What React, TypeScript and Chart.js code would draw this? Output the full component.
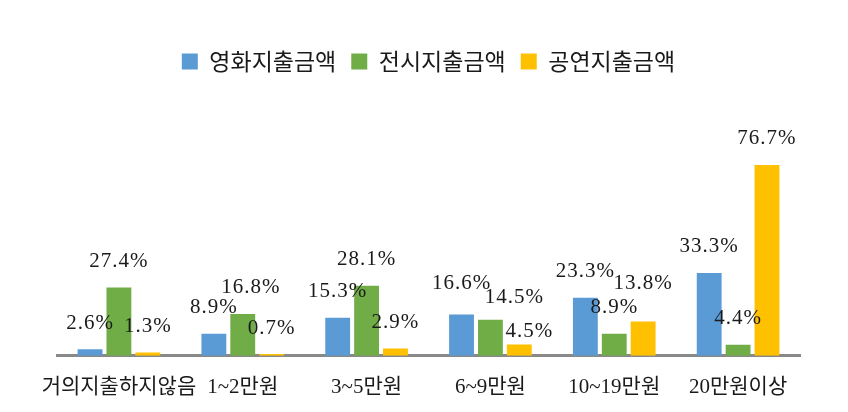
import React, { useEffect, useRef } from "react";
import { Chart, registerables } from "chart.js";

Chart.register(...registerables);

const categories = ["거의지출하지않음", "1~2만원", "3~5만원", "6~9만원", "10~19만원", "20만원이상"];
const seriesNames = ["영화지출금액", "전시지출금액", "공연지출금액"];
const movieValues = [2.6, 8.9, 15.3, 16.6, 23.3, 33.3];
const exhibitValues = [27.4, 16.8, 28.1, 14.5, 8.9, 4.4];
const performValues = [1.3, 0.7, 2.9, 4.5, 13.8, 76.7];

const colors = ["#5B9BD5", "#70AD47", "#FFC000"];
const labelNudges: Record<string, [number, number]> = {
  "1-1": [8, 0],
  "0-3": [0, -5],
  "1-3": [24, 4],
  "2-3": [10, 13],
  "2-4": [0, -12],
};

const FONT = '"Liberation Serif", "Noto Sans CJK KR", serif';

const valueLabelPlugin = {
  id: "valueLabels",
  afterDatasetsDraw(chart: any) {
    const ctx = chart.ctx;
    ctx.save();
    ctx.font = `21px ${FONT}`;
    try { ctx.letterSpacing = "1px"; } catch (e) {}
    ctx.fillStyle = "#1a1a1a";
    ctx.textAlign = "center";
    ctx.textBaseline = "middle";
    chart.data.datasets.forEach((ds: any, di: number) => {
      const meta = chart.getDatasetMeta(di);
      meta.data.forEach((el: any, i: number) => {
        const nudge = labelNudges[`${di}-${i}`] || [0, 0];
        ctx.fillText(ds.data[i].toFixed(1) + "%", el.x + nudge[0], el.y - 26 + nudge[1]);
      });
    });
    ctx.restore();
  },
};

export default function App() {
  const ref = useRef<HTMLCanvasElement>(null);
  useEffect(() => {
    if (!ref.current) return;
    const chart = new Chart(ref.current, {
      type: "bar",
      data: {
        labels: categories,
        datasets: [movieValues, exhibitValues, performValues].map((d, i) => ({
          label: seriesNames[i],
          data: d,
          backgroundColor: colors[i],
          categoryPercentage: 0.7,
          barPercentage: 0.86,
        })),
      },
      options: {
        animation: false,
        responsive: false,
        maintainAspectRatio: false,
        layout: { padding: { left: 57, right: 48, top: 35, bottom: -7 } },
        plugins: {
          legend: {
            position: "top",
            labels: {
              boxWidth: 16,
              boxHeight: 16,
              padding: 15,
              color: "#1a1a1a",
              font: { size: 23, family: '"Noto Sans CJK KR", sans-serif' },
            },
          },
          tooltip: { enabled: false },
        },
        scales: {
          x: {
            grid: { display: false, drawTicks: false },
            border: { color: "#898989", width: 3 },
            ticks: {
              padding: 19,
              color: "#1a1a1a",
              font: { size: 21, family: FONT },
              autoSkip: false,
              maxRotation: 0,
            },
          },
          y: { display: false, min: 0, max: 109.6 },
        },
      },
      plugins: [valueLabelPlugin],
    });
    return () => chart.destroy();
  }, []);
  return (
    <div style={{ position: "fixed", left: 0, top: 0, width: 848, height: 412 }}>
      <canvas ref={ref} width={848} height={412} />
    </div>
  );
}
